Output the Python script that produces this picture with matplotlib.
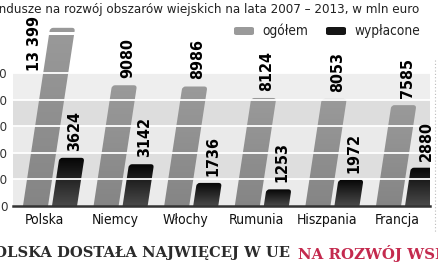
import numpy as np
import matplotlib
matplotlib.use("Agg")
import matplotlib.pyplot as plt
from matplotlib.patches import FancyBboxPatch
from matplotlib.colors import LinearSegmentedColormap
from matplotlib.transforms import Affine2D
from matplotlib.lines import Line2D

# data
countries = ["Polska", "Niemcy", "Włochy", "Rumunia", "Hiszpania", "Francja"]
total = [13399, 9080, 8986, 8124, 8053, 7585]
paid = [3624, 3142, 1736, 1253, 1972, 2880]
total_labels = ["13 399", "9080", "8986", "8124", "8053", "7585"]
paid_labels = ["3624", "3142", "1736", "1253", "1972", "2880"]
yticks = [0, 2000, 4000, 6000, 8000, 10000]

SANS = dict(family="DejaVu Sans", fontstretch="condensed")
W, H = 439, 268
fig = plt.figure(figsize=(W / 100, H / 100), dpi=100)
ax = fig.add_axes([13 / W, 62 / H, (430 - 13) / W, (206 - 10) / H])

XMIN, XMAX = -0.524, 5.382
YMAX = 14739
px_x = (430 - 13) / (XMAX - XMIN)      # pixels per x unit
px_y = (206 - 10) / YMAX               # pixels per value unit
k = 0.152 * px_y / px_x                # slant: x shift per value unit
aspect = px_x / px_y
skew = Affine2D(np.array([[1, k, 0], [0, 1, 0], [0, 0, 1]])) + ax.transData

# background bands
bands = ["#ebebeb", "#dedede", "#eaeaea", "#dddddd", "#eeeeee"]
for i, c in enumerate(bands):
    ax.axhspan(yticks[i], yticks[i + 1], color=c, lw=0, zorder=0)

grad = np.linspace(0, 1, 256).reshape(-1, 1)
cm_gray = LinearSegmentedColormap.from_list("g", ["#858585", "#9a9a9a"])
cm_black = LinearSegmentedColormap.from_list("b", ["#4a4a4a", "#050505"])
w = 0.355
r = 3.2 / px_x


def bar(x0, v, cmap):
    p = FancyBboxPatch((x0, -700), w, v + 700, boxstyle=f"round,pad=0,rounding_size={r}",
                       mutation_aspect=aspect, transform=skew, lw=0, fc="none", zorder=1)
    ax.add_patch(p)
    im = ax.imshow(grad, cmap=cmap, origin="lower", aspect="auto", zorder=1,
                   extent=[x0 - 0.05, x0 + w + k * v + 0.05, 0, v], interpolation="bilinear")
    im.set_clip_path(p)


lab_kw = dict(rotation=90, fontsize=11.5, fontweight="bold", zorder=5, **SANS)
lab_pad = 540
for i in range(len(countries)):
    xg = i - 0.028 - w
    xb = i + 0.028
    bar(xg, total[i], cm_gray)
    bar(xb, paid[i], cm_black)
    if i == 0:
        ax.text(xg + k * 12300 - 0.19, 12250, total_labels[i], ha="center", va="center", **lab_kw)
        # break mark in the tallest bar
        ax.fill_between([xg + k * 12800 - 0.05, xg + w + k * 13100 + 0.05], 12850, 13080,
                        color="white", lw=0, zorder=3)
    else:
        ax.text(xg + w / 2 + k * (total[i] + lab_pad) + 0.03, total[i] + lab_pad, total_labels[i],
                ha="center", va="bottom", **lab_kw)
    ax.text(xb + w / 2 + k * (paid[i] + lab_pad) + 0.03, paid[i] + lab_pad, paid_labels[i],
            ha="center", va="bottom", **lab_kw)

# white grid lines over the bars
for t in yticks[1:]:
    ax.axhline(t, color="white", lw=1.3, zorder=2)
ax.axhline(0, color="#333333", lw=1.8, zorder=4, clip_on=False)

ax.set_xlim(XMIN, XMAX)
ax.set_ylim(0, YMAX)
ax.set_facecolor("white")
for s in ax.spines.values():
    s.set_visible(False)
ax.set_yticks(yticks)
ax.set_yticklabels([str(t) for t in yticks], fontsize=9.5, color="#333333", **SANS)
ax.set_xticks(np.arange(len(countries)) - 0.08)
ax.set_xticklabels(countries, fontsize=10, color="#111111", **SANS)
ax.tick_params(axis="y", length=0, pad=4)
ax.tick_params(axis="x", length=0, pad=5)

# title (cropped at left in the reference)
fig.text(419 / W, 1 - 9 / H, "Fundusze na rozwój obszarów wiejskich na lata 2007 – 2013, w mln euro",
         ha="right", va="center", fontsize=9.55, color="#222222", **SANS)

# legend
def swatch(x, c):
    fig.patches.append(FancyBboxPatch((x / W, 1 - 35 / H), 20 / W, 8 / H,
                                      boxstyle="round,pad=0,rounding_size=0.006",
                                      transform=fig.transFigure, fc=c, ec="none"))

swatch(234, "#9a9a9a")
swatch(326, "#151515")
fig.text(262 / W, 1 - 30.5 / H, "ogółem", ha="left", va="center", fontsize=9.8, color="#222222", **SANS)
fig.text(354 / W, 1 - 30.5 / H, "wypłacone", ha="left", va="center", fontsize=9.8, color="#222222", **SANS)

# dotted edge on the right
fig.lines.append(Line2D([435 / W, 435 / W], [1 - 60 / H, 1 - 232 / H], transform=fig.transFigure,
                        color="#bbbbbb", lw=0.8, ls=(0, (1, 2))))

# headline, cropped on both sides
fig.text(290 / W, 1 - 253.5 / H, "POLSKA DOSTAŁA NAJWIĘCEJ W UE", ha="right", va="center",
         fontsize=10.6, fontweight="bold", family="DejaVu Serif", color="#2b2b2b")
fig.text(298 / W, 1 - 253.5 / H, "NA ROZWÓJ WSI", ha="left", va="center",
         fontsize=10.8, fontweight="bold", family="DejaVu Serif", color="#c42a4e")

fig.savefig("out.png", dpi=100)
